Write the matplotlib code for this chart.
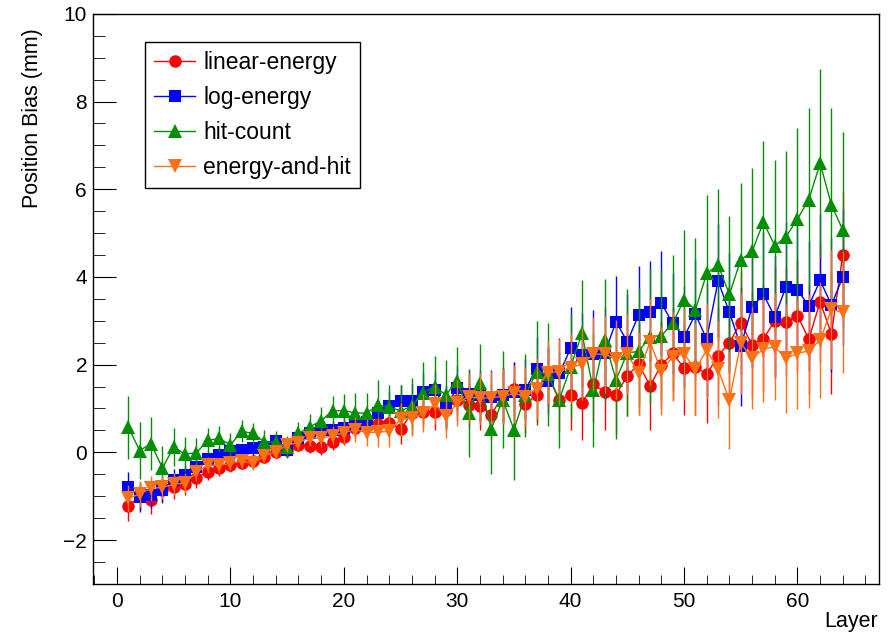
import numpy as np
import matplotlib.pyplot as plt
from matplotlib.lines import Line2D
from matplotlib.ticker import MultipleLocator

plt.rcParams['font.family'] = ['Liberation Sans', 'DejaVu Sans']

layers = np.arange(1, 65)

# position bias per layer (mm)
linear_energy = [-1.23, -1.00, -1.08, -0.85, -0.78, -0.72, -0.59, -0.44, -0.36, -0.28,
                 -0.24, -0.20, -0.10, 0.00, 0.05, 0.17, 0.15, 0.11, 0.23, 0.36,
                 0.55, 0.60, 0.65, 0.67, 0.53, 0.89, 0.93, 0.93, 0.97, 1.20,
                 1.08, 1.05, 0.85, 1.30, 1.45, 1.10, 1.31, 1.75, 1.19, 1.31,
                 1.12, 1.55, 1.38, 1.31, 1.75, 2.01, 1.52, 1.99, 2.26, 1.92,
                 1.95, 1.78, 2.20, 2.50, 2.96, 2.45, 2.59, 3.00, 2.98, 3.12,
                 2.58, 3.43, 2.70, 4.51]
linear_energy_err = [0.33, 0.32, 0.33, 0.30, 0.28, 0.25, 0.22, 0.20, 0.18, 0.17,
                     0.15, 0.15, 0.15, 0.15, 0.15, 0.15, 0.16, 0.17, 0.18, 0.20,
                     0.22, 0.25, 0.28, 0.30, 0.33, 0.35, 0.38, 0.42, 0.45, 0.48,
                     0.50, 0.55, 0.55, 0.60, 0.62, 0.65, 0.68, 0.70, 0.72, 0.79,
                     0.84, 0.85, 0.88, 0.90, 0.92, 0.95, 1.00, 1.00, 1.05, 1.08,
                     1.10, 1.10, 1.12, 1.15, 1.18, 1.20, 1.22, 1.25, 1.25, 1.28,
                     1.26, 1.37, 1.38, 1.43]

log_energy = [-0.80, -1.02, -0.98, -0.87, -0.62, -0.52, -0.33, -0.15, -0.05, 0.02,
              0.06, 0.09, 0.13, 0.26, 0.05, 0.32, 0.43, 0.50, 0.51, 0.56,
              0.64, 0.70, 0.90, 1.05, 1.17, 1.17, 1.38, 1.41, 1.05, 1.47,
              1.32, 1.30, 1.27, 1.30, 1.37, 1.43, 1.90, 1.63, 1.80, 2.37,
              2.22, 2.24, 2.26, 2.98, 2.52, 3.14, 3.21, 3.40, 2.94, 2.63,
              3.15, 2.58, 3.91, 3.19, 2.42, 3.31, 3.60, 3.09, 3.78, 3.70,
              3.34, 3.92, 3.36, 4.00]
log_energy_err = [0.35, 0.33, 0.30, 0.27, 0.25, 0.22, 0.20, 0.18, 0.16, 0.15,
                  0.14, 0.14, 0.14, 0.15, 0.15, 0.16, 0.17, 0.19, 0.20, 0.22,
                  0.25, 0.28, 0.30, 0.33, 0.36, 0.38, 0.42, 0.45, 0.48, 0.50,
                  0.55, 0.58, 0.60, 0.65, 0.68, 0.70, 0.72, 0.75, 0.80, 0.95,
                  0.95, 1.00, 1.05, 1.05, 1.10, 1.12, 1.15, 1.18, 1.15, 1.17,
                  1.25, 1.29, 1.29, 1.35, 1.36, 1.38, 1.42, 1.39, 1.47, 1.45,
                  1.48, 1.52, 1.53, 1.55]

hit_count = [0.57, 0.04, 0.20, -0.36, 0.12, -0.04, -0.01, 0.27, 0.32, 0.17,
             0.48, 0.43, 0.24, 0.23, 0.12, 0.43, 0.58, 0.72, 0.95, 0.95,
             0.90, 0.89, 1.08, 1.03, 0.95, 1.05, 1.36, 1.50, 1.31, 1.63,
             0.89, 1.58, 0.53, 1.20, 0.52, 1.30, 1.84, 1.78, 1.20, 1.95,
             2.71, 1.42, 2.56, 1.65, 2.27, 2.30, 2.64, 2.66, 2.94, 3.48,
             3.25, 4.08, 4.27, 3.60, 4.39, 4.58, 5.25, 4.71, 4.92, 5.32,
             5.76, 6.59, 5.64, 5.07]
hit_count_err = [0.72, 0.65, 0.60, 0.50, 0.44, 0.38, 0.33, 0.28, 0.28, 0.27,
                 0.25, 0.25, 0.28, 0.25, 0.25, 0.27, 0.29, 0.32, 0.33, 0.37,
                 0.45, 0.47, 0.56, 0.51, 0.58, 0.65, 0.70, 0.70, 0.80, 0.77,
                 1.00, 0.90, 1.02, 1.10, 1.15, 0.95, 1.15, 1.18, 1.10, 1.20,
                 1.22, 1.30, 1.39, 1.35, 1.45, 1.45, 1.55, 1.50, 1.55, 1.58,
                 1.63, 1.79, 1.73, 1.79, 1.76, 1.90, 1.84, 1.96, 1.94, 2.07,
                 2.09, 2.15, 2.21, 2.24]

energy_and_hit = [-1.05, -0.95, -0.82, -0.80, -0.73, -0.70, -0.46, -0.29, -0.30, -0.25,
                  -0.20, -0.25, -0.08, 0.01, 0.17, 0.22, 0.33, 0.32, 0.38, 0.45,
                  0.52, 0.45, 0.46, 0.48, 0.75, 0.78, 0.89, 1.10, 0.82, 1.12,
                  1.27, 1.23, 1.25, 1.27, 1.35, 1.27, 1.45, 1.82, 1.84, 1.93,
                  2.01, 2.24, 2.24, 2.12, 2.24, 1.80, 2.52, 1.85, 2.18, 2.25,
                  1.89, 2.33, 1.89, 1.19, 2.49, 2.15, 2.35, 2.41, 2.14, 2.26,
                  2.31, 2.56, 3.26, 3.19]
energy_and_hit_err = [0.30, 0.30, 0.28, 0.26, 0.25, 0.23, 0.20, 0.18, 0.17, 0.16,
                      0.15, 0.15, 0.15, 0.15, 0.16, 0.17, 0.18, 0.20, 0.22, 0.25,
                      0.28, 0.30, 0.33, 0.36, 0.38, 0.40, 0.43, 0.45, 0.50, 0.52,
                      0.55, 0.58, 0.60, 0.62, 0.65, 0.68, 0.70, 0.72, 0.75, 0.80,
                      0.82, 0.85, 0.88, 0.90, 0.92, 0.95, 0.98, 1.00, 1.02, 1.05,
                      1.05, 1.08, 1.10, 1.12, 1.15, 1.17, 1.20, 1.22, 1.25, 1.27,
                      1.30, 1.32, 1.35, 1.39]

series = [
    ('linear-energy', linear_energy, linear_energy_err, '#ff0000', 'o', 9),
    ('log-energy', log_energy, log_energy_err, '#0000ff', 's', 8.5),
    ('hit-count', hit_count, hit_count_err, '#008f00', '^', 10),
    ('energy-and-hit', energy_and_hit, energy_and_hit_err, '#ff7014', 'v', 10),
]

fig = plt.figure(figsize=(8.91, 6.33), dpi=100)
ax = fig.add_axes([0.104, 0.0776, 0.882, 0.9006])

handles = []
for i, (name, vals, errs, color, marker, ms) in enumerate(series):
    ax.errorbar(layers, vals, yerr=errs, color=color, marker=marker, ms=ms,
                mec=color, mew=0, lw=1, elinewidth=1, capsize=2.5, capthick=1,
                zorder=2 + i)
    handles.append(Line2D([], [], color=color, marker=marker, ms=ms, mew=0, lw=1))

ax.set_xlim(-2.15, 67.15)
ax.set_ylim(-3, 10)
ax.xaxis.set_major_locator(MultipleLocator(10))
ax.xaxis.set_minor_locator(MultipleLocator(2))
ax.yaxis.set_major_locator(MultipleLocator(2))
ax.yaxis.set_minor_locator(MultipleLocator(0.5))
ax.tick_params(which='both', direction='in', top=False, right=False, labelsize=15)
ax.tick_params(axis='x', which='major', length=12, pad=6)
ax.tick_params(axis='x', which='minor', length=6.5)
ax.tick_params(axis='y', which='major', length=16.5, pad=4)
ax.tick_params(axis='y', which='minor', length=8.5)
for sp in ax.spines.values():
    sp.set_linewidth(1)

fig.text(33 / 891, 1 - 28 / 633, 'Position Bias (mm)', rotation=90,
         ha='center', va='top', fontsize=15.5)
fig.text(878 / 891, 1 - 621 / 633, 'Layer', ha='right', va='center', fontsize=15.5)

leg = ax.legend(handles, [s[0] for s in series], loc='upper left',
                bbox_to_anchor=(0.0666, 0.9505), fontsize=16.5, frameon=True,
                fancybox=False, edgecolor='black', framealpha=1,
                handlelength=1.8, handletextpad=0.35, borderpad=0.4,
                labelspacing=0.52, borderaxespad=0)
leg.get_frame().set_linewidth(1)

fig.savefig('out.png', dpi=100)
